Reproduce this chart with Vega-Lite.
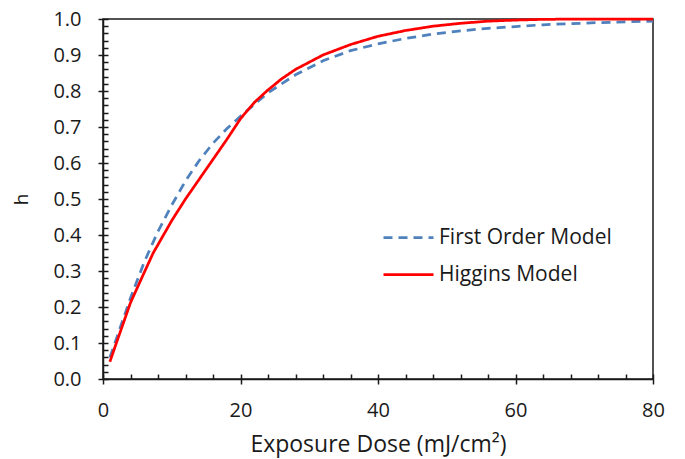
{
  "$schema": "https://vega.github.io/schema/vega-lite/v6.json",
  "autosize": {"type": "none"},
  "width": 550,
  "height": 360,
  "padding": {"left": 103, "top": 19, "right": 32, "bottom": 80},
  "background": "white",
  "config": {
    "view": {"stroke": "#1a1a1a", "strokeWidth": 1.5},
    "font": "Open Sans",
    "axis": {"grid": false, "domainColor": "#1a1a1a", "tickColor": "#1a1a1a", "domainWidth": 1.5, "tickWidth": 1.5, "labelColor": "#1a1a1a", "titleColor": "#1a1a1a", "labelFont": "Open Sans", "titleFont": "Open Sans", "titleFontWeight": "normal", "labelFlush": false, "labelOverlap": false}
  },
  "data": {"values": [
    {"model": "First Order Model", "D": 1, "h": 0.06},
    {"model": "First Order Model", "D": 2, "h": 0.115},
    {"model": "First Order Model", "D": 4, "h": 0.225},
    {"model": "First Order Model", "D": 6, "h": 0.325},
    {"model": "First Order Model", "D": 8, "h": 0.41},
    {"model": "First Order Model", "D": 10, "h": 0.483},
    {"model": "First Order Model", "D": 12, "h": 0.55},
    {"model": "First Order Model", "D": 14, "h": 0.607},
    {"model": "First Order Model", "D": 16, "h": 0.655},
    {"model": "First Order Model", "D": 18, "h": 0.695},
    {"model": "First Order Model", "D": 20, "h": 0.73},
    {"model": "First Order Model", "D": 24, "h": 0.795},
    {"model": "First Order Model", "D": 28, "h": 0.845},
    {"model": "First Order Model", "D": 32, "h": 0.884},
    {"model": "First Order Model", "D": 36, "h": 0.912},
    {"model": "First Order Model", "D": 40, "h": 0.931},
    {"model": "First Order Model", "D": 44, "h": 0.946},
    {"model": "First Order Model", "D": 48, "h": 0.958},
    {"model": "First Order Model", "D": 52, "h": 0.967},
    {"model": "First Order Model", "D": 56, "h": 0.974},
    {"model": "First Order Model", "D": 60, "h": 0.979},
    {"model": "First Order Model", "D": 64, "h": 0.984},
    {"model": "First Order Model", "D": 68, "h": 0.987},
    {"model": "First Order Model", "D": 72, "h": 0.99},
    {"model": "First Order Model", "D": 76, "h": 0.992},
    {"model": "First Order Model", "D": 80, "h": 0.994},
    {"model": "Higgins Model", "D": 1, "h": 0.048},
    {"model": "Higgins Model", "D": 2, "h": 0.103},
    {"model": "Higgins Model", "D": 4, "h": 0.212},
    {"model": "Higgins Model", "D": 6, "h": 0.296},
    {"model": "Higgins Model", "D": 7.3, "h": 0.35},
    {"model": "Higgins Model", "D": 10, "h": 0.44},
    {"model": "Higgins Model", "D": 12, "h": 0.5},
    {"model": "Higgins Model", "D": 14, "h": 0.555},
    {"model": "Higgins Model", "D": 16, "h": 0.61},
    {"model": "Higgins Model", "D": 18, "h": 0.665},
    {"model": "Higgins Model", "D": 20, "h": 0.723},
    {"model": "Higgins Model", "D": 22, "h": 0.768},
    {"model": "Higgins Model", "D": 24, "h": 0.803},
    {"model": "Higgins Model", "D": 26, "h": 0.834},
    {"model": "Higgins Model", "D": 28, "h": 0.86},
    {"model": "Higgins Model", "D": 30, "h": 0.88},
    {"model": "Higgins Model", "D": 32, "h": 0.9},
    {"model": "Higgins Model", "D": 36, "h": 0.929},
    {"model": "Higgins Model", "D": 40, "h": 0.952},
    {"model": "Higgins Model", "D": 44, "h": 0.968},
    {"model": "Higgins Model", "D": 48, "h": 0.98},
    {"model": "Higgins Model", "D": 52, "h": 0.988},
    {"model": "Higgins Model", "D": 56, "h": 0.994},
    {"model": "Higgins Model", "D": 60, "h": 0.997},
    {"model": "Higgins Model", "D": 64, "h": 0.999},
    {"model": "Higgins Model", "D": 70, "h": 1.0},
    {"model": "Higgins Model", "D": 80, "h": 1.0}
  ]},
  "layer": [
    {
      "mark": {"type": "line", "strokeWidth": 2.75, "clip": false},
      "encoding": {
        "x": {"field": "D", "type": "quantitative", "scale": {"domain": [0, 80], "nice": false},
          "axis": {"values": [0, 20, 40, 60, 80], "tickSize": 5, "labelFontSize": 20, "labelPadding": 16, "title": "Exposure Dose (mJ/cm²)", "titleFontSize": 23, "titlePadding": 13}},
        "y": {"field": "h", "type": "quantitative", "scale": {"domain": [0, 1], "nice": false},
          "axis": {"values": [0, 0.1, 0.2, 0.3, 0.4, 0.5, 0.6, 0.7, 0.8, 0.9, 1.0], "format": ".1f", "tickSize": 5, "labelFontSize": 20, "labelPadding": 17, "title": "h", "titleFontSize": 19, "titlePadding": 21}},
        "color": {"field": "model", "type": "nominal", "scale": {"domain": ["First Order Model", "Higgins Model"], "range": ["#4F81BD", "#FF0000"]},
          "legend": {"title": null, "orient": "none", "legendX": 279, "legendY": 192, "symbolType": "stroke", "symbolSize": 2500, "symbolStrokeWidth": 2.75, "labelFontSize": 21, "labelFont": "Open Sans", "labelColor": "#1a1a1a", "labelLimit": 300, "rowPadding": -12, "labelOffset": 4}},
        "strokeDash": {"field": "model", "type": "nominal", "scale": {"domain": ["First Order Model", "Higgins Model"], "range": [[9, 6], [1, 0]]}, "legend": null}
      }
    },
    {
      "mark": {"type": "line", "strokeOpacity": 0},
      "encoding": {
        "x": {"field": "D", "type": "quantitative",
          "axis": {"orient": "bottom", "values": [0, 4, 8, 12, 16, 20, 24, 28, 32, 36, 40, 44, 48, 52, 56, 60, 64, 68, 72, 76, 80], "tickSize": -5, "labels": false, "domain": false, "title": null}},
        "y": {"field": "h", "type": "quantitative",
          "axis": {"orient": "left", "values": [0, 0.02, 0.04, 0.06, 0.08, 0.1, 0.12, 0.14, 0.16, 0.18, 0.2, 0.22, 0.24, 0.26, 0.28, 0.3, 0.32, 0.34, 0.36, 0.38, 0.4, 0.42, 0.44, 0.46, 0.48, 0.5, 0.52, 0.54, 0.56, 0.58, 0.6, 0.62, 0.64, 0.66, 0.68, 0.7, 0.72, 0.74, 0.76, 0.78, 0.8, 0.82, 0.84, 0.86, 0.88, 0.9, 0.92, 0.94, 0.96, 0.98, 1.0], "tickSize": -5, "labels": false, "domain": false, "title": null}},
        "detail": {"field": "model", "type": "nominal"}
      }
    }
  ],
  "resolve": {"axis": {"x": "independent", "y": "independent"}}
}
